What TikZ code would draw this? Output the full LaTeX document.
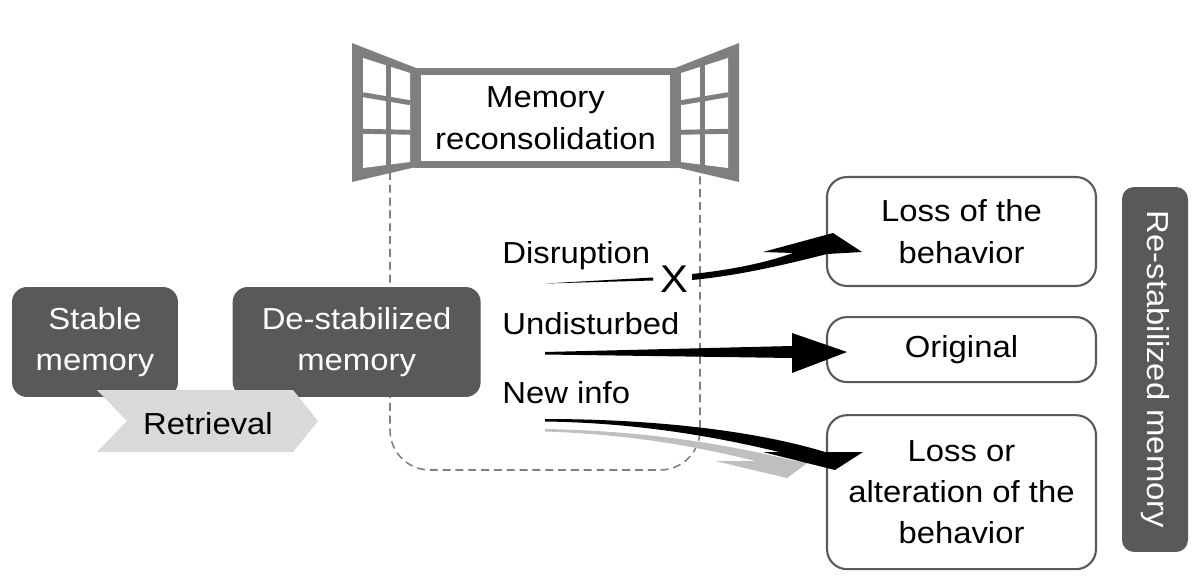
\documentclass[tikz,border=0pt]{standalone}
\usepackage{fontspec}
\setmainfont{Liberation Sans}[FakeStretch=1.08]
\usetikzlibrary{positioning}
\definecolor{boxgray}{HTML}{595959}
\definecolor{winggray}{HTML}{7F7F7F}
\definecolor{chevgray}{HTML}{D9D9D9}
\definecolor{arrgray}{HTML}{BFBFBF}

\begin{document}
\begin{tikzpicture}[x=0.02cm, y=-0.02cm, font=\fontsize{17.3}{23.6}\selectfont,
	darkbox/.style={fill=boxgray, text=white, rounded corners=0.3cm, align=center, inner sep=0pt},
	whitebox/.style={draw=boxgray, line width=1.2pt, fill=white, rounded corners=0.4cm, align=center, inner sep=0pt, minimum width=5.38cm},
	pane/.style={draw=winggray, line width=2.8pt},
	container/.style={draw=winggray, line width=0.9pt, dash pattern=on 4.5pt off 2.8pt, rounded corners=0.8cm},
	label/.style={anchor=west, inner sep=0pt}]

	\useasboundingbox (0,0) rectangle (1200,578);

	% dashed frame below the window %
	\coordinate (cl) at (390,172);
	\coordinate (cr) at (700,172);
	\draw[container] (cl) -- (390,470) -- (700,470) -- (cr);

	% window wings %
	\fill[winggray] (352,43) -- (416,68) -- (416,167) -- (352,182) -- cycle;
	\fill[white] (363,58) -- (410,73) -- (410,162) -- (363,168) -- cycle;
	\draw[pane] (388.5,60) -- (388.5,167);
	\draw[pane] (363,94.7) -- (410,102.7);
	\draw[pane] (363,131.3) -- (410,132.3);

	\fill[winggray] (739,43) -- (675,68) -- (675,167) -- (739,182) -- cycle;
	\fill[white] (728,58) -- (681,73) -- (681,162) -- (728,168) -- cycle;
	\draw[pane] (702.5,60) -- (702.5,167);
	\draw[pane] (728,94.7) -- (681,102.7);
	\draw[pane] (728,131.3) -- (681,132.3);

	% nodes %
	\node[draw=winggray, line width=4pt, fill=white, align=center, inner sep=0pt, minimum width=5.12cm, minimum height=1.86cm] (recon) at (545.5,118) {Memory\\reconsolidation};

	\node[darkbox, minimum width=3.32cm, minimum height=2.2cm] (stable) at (95,342) {Stable\\memory};
	\node[darkbox, minimum width=4.96cm, minimum height=2.2cm, right=1.08cm of stable] (destab) {De-stabilized\\memory};

	\fill[chevgray] (97,390) -- (293,390) -- (318,421) -- (293,452) -- (97,452) -- (127,421) -- cycle;
	\node (retrieval) at (208,424) {Retrieval};

	\node[whitebox, minimum height=2.18cm] (loss) at (961.5,231.5) {Loss of the\\behavior};
	\node[whitebox, minimum height=1.3cm, below=0.58cm of loss] (orig) {Original};
	\node[whitebox, minimum height=3.08cm, below=0.62cm of orig] (alter) {Loss or\\alteration of the\\behavior};
	\node[darkbox, rotate=-90, rounded corners=0.24cm, minimum width=7.3cm, minimum height=1.32cm] (restab) at (1155,369.5) {Re-stabilized memory};

	\node[label] (disr) at (502,256) {Disruption};
	\node[label] (undist) at (502,324) {Undisturbed};
	\node[label] (newinfo) at (502,393) {New info};
	\node[inner sep=0pt, font=\fontsize{22}{24}\selectfont] (cross) at (674,279) {X};

	% arrows %
	\fill (545,283.5) -- (653,277.5) -- (653,280.5) -- cycle;
	\fill (692,274) .. controls (730,270) and (765,263) .. (793,253) -- (763,252) -- (833,233) -- (862,252) -- (827,254) .. controls (780,266) and (735,276) .. (692,280) -- cycle;

	\fill (545,352) -- (792,346) -- (792,333) -- (847,352) -- (792,373) -- (792,358) -- (545,354.5) -- cycle;

	\fill[arrgray] (545,429) .. controls (650,431) and (730,445) .. (795,461) -- (780,467) .. controls (720,452) and (650,435) .. (545,431.5) -- cycle;
	\fill[arrgray] (715,461) -- (810,461) -- (787,478) -- cycle;
	\fill (545,419) .. controls (660,419) and (760,432) .. (825,452) -- (835,467) .. controls (760,445) and (660,423) .. (545,421.5) -- cycle;
	\fill (763,452) -- (863,452) -- (835,470) -- cycle;

\end{tikzpicture}
\end{document}
